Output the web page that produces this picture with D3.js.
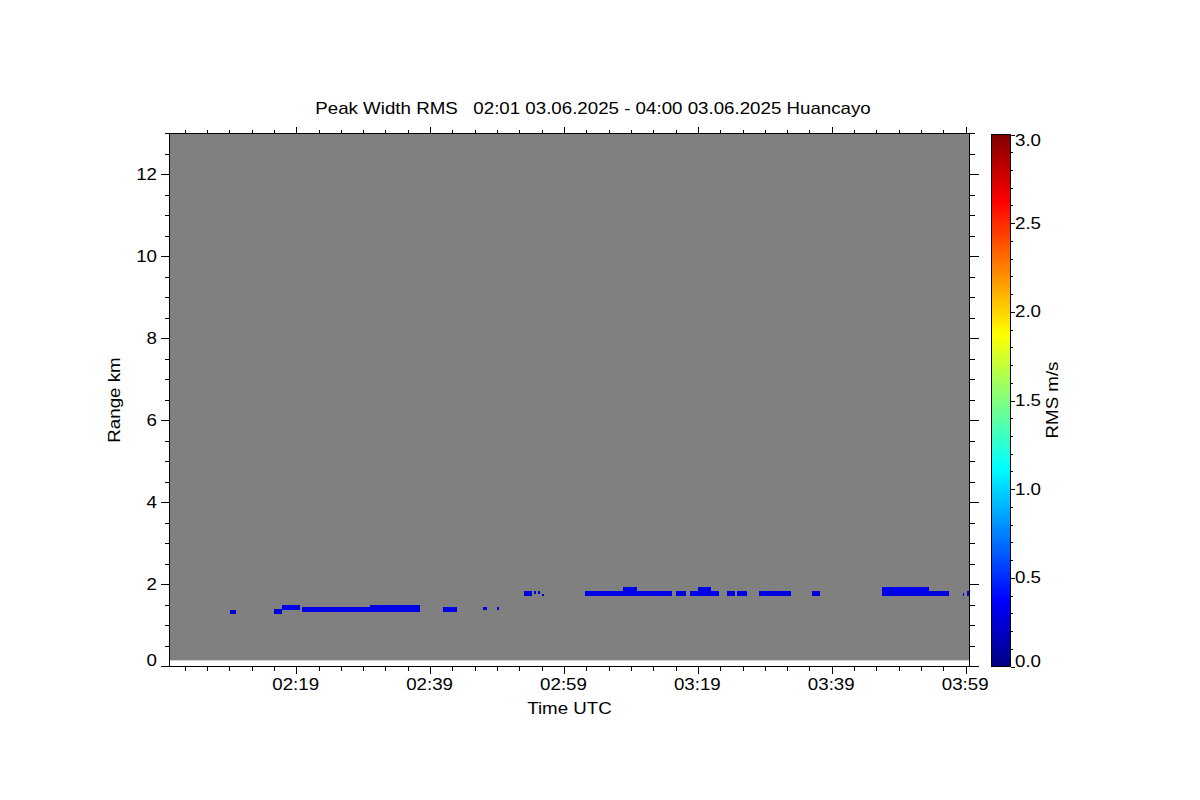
<!DOCTYPE html>
<html><head><meta charset="utf-8">
<script src="https://cdn.jsdelivr.net/npm/d3@7"></script>
<style>
html,body{margin:0;padding:0;background:#fff;}
text{font-family:"Liberation Sans",Arial,Helvetica,sans-serif;fill:#000;}
</style></head>
<body>
<svg id="chart" width="1200" height="800"></svg>
<script>
// ---- data ----
const titleText = "Peak Width RMS   02:01 03.06.2025 - 04:00 03.06.2025 Huancayo";
const xLabel = "Time UTC";
const yLabel = "Range km";
const cbLabel = "RMS m/s";
// x in minutes after 02:00 UTC
const xTickMinutes = [19, 39, 59, 79, 99, 119];
const xTickLabels = ["02:19", "02:39", "02:59", "03:19", "03:39", "03:59"];
const yTicks = [0, 2, 4, 6, 8, 10, 12];
const cbTicks = [0.0, 0.5, 1.0, 1.5, 2.0, 2.5, 3.0];
// echo cells: start/end time (min after 02:00), range low/high (km), RMS (m/s)
const cellStart = [9.0, 15.6, 16.8, 19.8, 22.5, 27.2, 29.9, 40.8, 46.9, 48.9,
  53.0, 54.5, 55.1, 55.7, 62.1, 67.7, 75.7, 77.7, 78.9, 83.3, 84.7, 88.1, 95.9,
  106.4, 106.4, 118.5, 119.2];
const cellEnd = [9.9, 16.8, 19.5, 22.5, 27.2, 29.9, 37.4, 42.9, 47.4, 49.2,
  54.1, 54.8, 55.3, 55.9, 75.0, 69.9, 77.2, 82.1, 80.9, 84.4, 86.2, 92.9, 97.1,
  116.4, 113.5, 118.7, 119.5];
const rangeLow = [1.29, 1.29, 1.37, 1.32, 1.34, 1.34, 1.34, 1.34, 1.37, 1.37,
  1.73, 1.76, 1.76, 1.73, 1.71, 1.83, 1.73, 1.71, 1.83, 1.73, 1.73, 1.71, 1.71,
  1.73, 1.80, 1.71, 1.73];
const rangeHigh = [1.39, 1.41, 1.49, 1.46, 1.46, 1.46, 1.49, 1.46, 1.46, 1.46,
  1.85, 1.83, 1.83, 1.78, 1.83, 1.95, 1.85, 1.83, 1.93, 1.83, 1.83, 1.83, 1.85,
  1.83, 1.95, 1.80, 1.85];
const rmsValue = [0.26, 0.28, 0.32, 0.30, 0.29, 0.31, 0.30, 0.30, 0.27, 0.27,
  0.28, 0.26, 0.26, 0.25, 0.30, 0.33, 0.29, 0.30, 0.33, 0.28, 0.29, 0.28, 0.27,
  0.28, 0.32, 0.25, 0.27];

// ---- chart ----
const svg = d3.select("#chart");
const x = d3.scaleLinear().domain([0, 119.5]).range([169.5, 969.5]);
const y = d3.scaleLinear().domain([0, 13]).range([666.5, 133.5]);
const jetStops = [0, 0.375, 1.125, 1.875, 2.625, 3.0];
const jetColors = ["#000080", "#0000ff", "#00ffff", "#ffff00", "#ff0000", "#800000"];
const color = d3.scaleLinear().domain(jetStops).range(jetColors).clamp(true);
const SX = 1.17, FS = 16;
function label(g, tx, ty, txt, anchor, rot) {
  return g.append("text")
    .attr("transform", `translate(${tx},${ty})` + (rot ? ` rotate(${rot})` : "") + ` scale(${SX},1)`)
    .attr("text-anchor", anchor || "start").attr("font-size", FS)
    .attr("xml:space", "preserve").style("white-space", "pre").text(txt);
}

// gray no-data background (range gates from 0.15 km)
svg.append("rect").attr("x", x(0)).attr("y", y(13))
  .attr("width", x(119.5) - x(0)).attr("height", y(0.15) - y(13))
  .attr("fill", "#808080");

// cells
const cells = cellStart.map((s, i) => ({s, e: cellEnd[i], lo: rangeLow[i], hi: rangeHigh[i], v: rmsValue[i]}));
svg.append("g").selectAll("rect").data(cells).join("rect")
  .attr("x", d => x(d.s)).attr("width", d => Math.max(1.2, x(d.e) - x(d.s)))
  .attr("y", d => y(d.hi)).attr("height", d => y(d.lo) - y(d.hi))
  .attr("fill", d => color(d.v)).attr("shape-rendering", "crispEdges");

// axes frame
const frame = svg.append("g").attr("stroke", "#000").attr("stroke-width", 1).attr("shape-rendering", "crispEdges");
frame.append("line").attr("x1", x.range()[0]).attr("x2", x.range()[1]).attr("y1", y(0)).attr("y2", y(0));
frame.append("line").attr("x1", x.range()[0]).attr("x2", x.range()[1]).attr("y1", y(13)).attr("y2", y(13));
frame.append("line").attr("x1", x.range()[0]).attr("x2", x.range()[0]).attr("y1", y(0)).attr("y2", y(13));
frame.append("line").attr("x1", x.range()[1]).attr("x2", x.range()[1]).attr("y1", y(0)).attr("y2", y(13));

// x ticks (major + minor), bottom and top, outward
const xMinor = [];
for (let t = 19 - 20 / 6; t > 0; t -= 20 / 6) xMinor.push(t);
for (let t = 19; t <= 119.5; t += 20 / 6) xMinor.push(t);
xMinor.forEach(t => {
  const major = xTickMinutes.some(m => Math.abs(m - t) < 0.01);
  const L = major ? 7 : 4;
  frame.append("line").attr("x1", x(t)).attr("x2", x(t)).attr("y1", y(0)).attr("y2", y(0) + L);
  frame.append("line").attr("x1", x(t)).attr("x2", x(t)).attr("y1", y(13)).attr("y2", y(13) - L);
});
// y ticks left and right, outward
for (let r = 0; r <= 13; r += 0.5) {
  const major = yTicks.includes(r);
  const L = major ? 9 : 5;
  frame.append("line").attr("x1", x.range()[0] - L).attr("x2", x.range()[0]).attr("y1", y(r)).attr("y2", y(r));
  frame.append("line").attr("x1", x.range()[1]).attr("x2", x.range()[1] + L).attr("y1", y(r)).attr("y2", y(r));
}

// tick labels
const gx = svg.append("g");
xTickMinutes.forEach((m, i) => label(gx, x(m) - 1, 690, xTickLabels[i], "middle"));
const gy = svg.append("g");
yTicks.forEach(v => label(gy, 157, y(v) + (v === 0 ? -6 : 0) + 5.6, String(v), "end"));

// axis titles
label(svg, (x.range()[0] + x.range()[1]) / 2, 714, xLabel, "middle");
label(svg, 120, 400, yLabel, "middle", -90);
label(svg, 593, 114, titleText, "middle");

// colorbar
const cb = d3.scaleLinear().domain([0, 3]).range([666.5, 134.5]);
const cbX = 991, cbW = 20;
const steps = d3.range(0, 3, 3 / 256);
svg.append("g").selectAll("rect").data(steps).join("rect")
  .attr("x", cbX).attr("width", cbW)
  .attr("y", d => cb(d + 3 / 256)).attr("height", d => cb(d) - cb(d + 3 / 256) + 0.5)
  .attr("fill", d => color(d + 1.5 / 256)).attr("shape-rendering", "crispEdges");
svg.append("rect").attr("x", cbX + 0.5).attr("y", cb(3)).attr("width", cbW - 1)
  .attr("height", cb(0) - cb(3)).attr("fill", "none").attr("stroke", "#000")
  .attr("shape-rendering", "crispEdges");
const cbT = svg.append("g").attr("stroke", "#000").attr("shape-rendering", "crispEdges");
for (let k = 0; k <= 30; k++) {
  const v = k / 10;
  const L = (k % 5 === 0) ? 4 : 2;
  cbT.append("line").attr("x1", cbX + cbW - 0.5).attr("x2", cbX + cbW - 0.5 + L)
    .attr("y1", Math.round(cb(v)) + 0.5).attr("y2", Math.round(cb(v)) + 0.5);
}
const gc = svg.append("g");
cbTicks.forEach(v => label(gc, 1015, cb(v) + (v === 3 ? 6 : v === 0 ? -5 : 0) + 5.6, v.toFixed(1), "start"));
label(svg, 1058, 400, cbLabel, "middle", -90);
</script>
</body></html>
